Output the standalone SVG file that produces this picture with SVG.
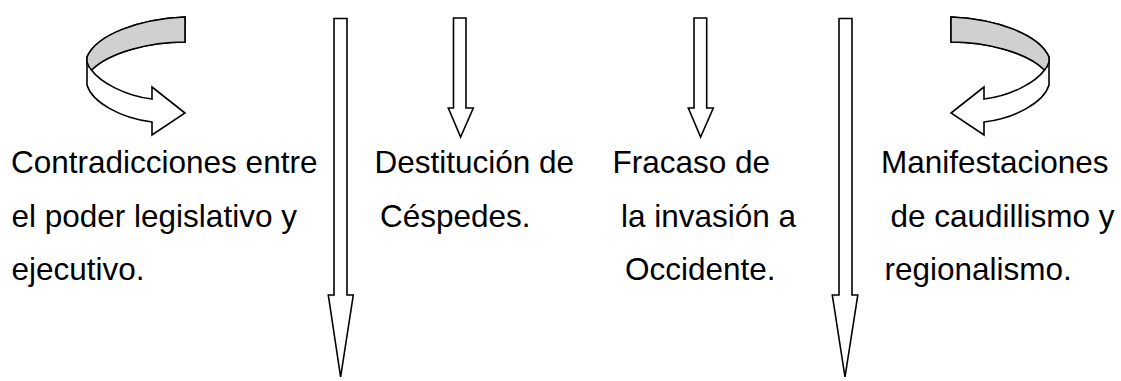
<svg xmlns="http://www.w3.org/2000/svg" width="1121" height="381" viewBox="0 0 1121 381">
<style>
.sh{fill:#fff;stroke:#000;stroke-width:1.6;stroke-linejoin:miter}
.band{fill:#d0d0d0;stroke:#000;stroke-width:1.6}
.t{font-family:"Liberation Sans",Arial,sans-serif;font-size:31.5px;fill:#000}
</style>
<defs>
<g id="curl">
<path class="sh" d="M185,17 C140,19 97,34 87,57 L87,85 C92,102 120,118 152,122 L152,135 L185,113 L152,87 L152,99 C125,96 100,82 91.5,70 C110,52 150,42 185,42 Z"/>
<path class="band" d="M185,17 C140,19 97,34 87,57 L87,62 C88,66 89.5,68 91.5,70 C110,52 150,42 185,42 Z"/>
</g>
</defs>
<g id="connectors">
<g id="curl-left"><use href="#curl"/></g>
<g id="curl-right"><use href="#curl" transform="translate(1136,0) scale(-1,1)"/></g>
<polygon id="arrow-1" class="sh" points="334,18.5 347,18.5 347,295 353.3,295 340.6,377 328.3,295 334,295"/>
<polygon id="arrow-2" class="sh" points="453.5,18 466,18 466,108 473.3,108 460.6,137 448.3,108 453.5,108"/>
<polygon id="arrow-3" class="sh" points="694,18 706.7,18 706.7,108 713.3,108 700.6,137 688.3,108 694,108"/>
<polygon id="arrow-4" class="sh" points="839,18.5 852,18.5 852,295 857.8,295 845,377 832.3,295 839,295"/>
</g>
<g id="node-contradicciones">
<text class="t" x="11" y="173">Contradicciones entre</text>
<text class="t" x="11.5" y="227">el poder legislativo y</text>
<text class="t" x="11.5" y="280">ejecutivo.</text>
</g>
<g id="node-destitucion">
<text class="t" x="374.5" y="173">Destitución de</text>
<text class="t" x="380" y="227">Céspedes.</text>
</g>
<g id="node-fracaso">
<text class="t" x="612.5" y="173">Fracaso de</text>
<text class="t" x="621" y="227">la invasión a</text>
<text class="t" x="625" y="280">Occidente.</text>
</g>
<g id="node-manifestaciones">
<text class="t" x="881" y="173">Manifestaciones</text>
<text class="t" x="890.5" y="227">de caudillismo y</text>
<text class="t" x="884.5" y="280">regionalismo.</text>
</g>
</svg>
